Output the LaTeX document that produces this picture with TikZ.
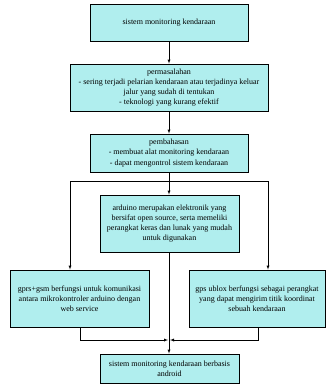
\documentclass[tikz,border=0pt]{standalone}
\usepackage{fontspec}
\setmainfont{Liberation Serif}
\usepackage{tikz}
\usetikzlibrary{
  calc,%
  arrows,
  positioning
}
\definecolor{boxfill}{HTML}{B0EEEE}
\tikzset{>=latex}
\tikzset{font=\fontsize{8}{10.2}\selectfont}
\tikzset{flowbox/.style={draw, thick, fill=boxfill, align=center, inner sep=1pt}}

\begin{document}
\begin{tikzpicture}[x=1pt, y=-1pt]
          \useasboundingbox (0,0) rectangle (326,384);
          \node[flowbox, minimum width=158pt, minimum height=37pt] (judul) at (169,22.5) {sistem monitoring kendaraan};
          \node[flowbox, minimum width=198pt, minimum height=47pt] (masalah) at (169,87.5)
          {permasalahan\\- sering terjadi pelarian kendaraan atau terjadinya keluar\\jalur yang sudah di tentukan\\- teknologi yang kurang efektif};
          \node[flowbox, minimum width=158pt, minimum height=38pt] (bahas) at (169,153)
          {pembahasan\\- membuat alat monitoring kendaraan\\- dapat mengontrol sistem kendaraan};
          \node[flowbox, minimum width=139pt, minimum height=57pt] (arduino) at (169.5,223.5)
          {arduino merupakan elektronik yang\\bersifat open source, serta memeliki\\perangkat keras dan lunak yang mudah\\untuk digunakan};
          \node[flowbox, minimum width=139pt, minimum height=57pt] (gprs) at (79.5,298.5)
          {gprs+gsm berfungsi untuk komunikasi\\antara mikrokontroler arduino dengan\\web service};
          \node[flowbox, minimum width=136pt, minimum height=57pt] (gps) at (257,298.5)
          {gps ublox berfungsi sebagai perangkat\\yang dapat mengirim titik koordinat\\sebuah kendaraan};
          \node[flowbox, minimum width=139pt, minimum height=29pt] (hasil) at (169.5,368.5)
          {sistem monitoring kendaraan berbasis\\android};
          % connectors
          \draw[->] (judul) -- (masalah);
          \draw[->] (masalah) -- (bahas);
          \draw[->] (bahas.south) -- (bahas.south |- arduino.north);
          \coordinate (kiri) at (70,181);
          \coordinate (kanan) at (268,181);
          \coordinate (temu) at (169,340);
          \draw (kiri) -- (kanan);
          \draw[->] (kiri) -- (kiri |- gprs.north);
          \draw[->] (kanan) -- (kanan |- gps.north);
          \draw[->] (arduino.south -| bahas.south) -- (bahas.south |- hasil.north);
          \draw[->] ([xshift=0.5pt]gprs.south) |- ([xshift=-1pt]temu);
          \draw[->] ([xshift=1pt]gps.south) |- ([xshift=1pt]temu);
        \end{tikzpicture}
\end{document}
